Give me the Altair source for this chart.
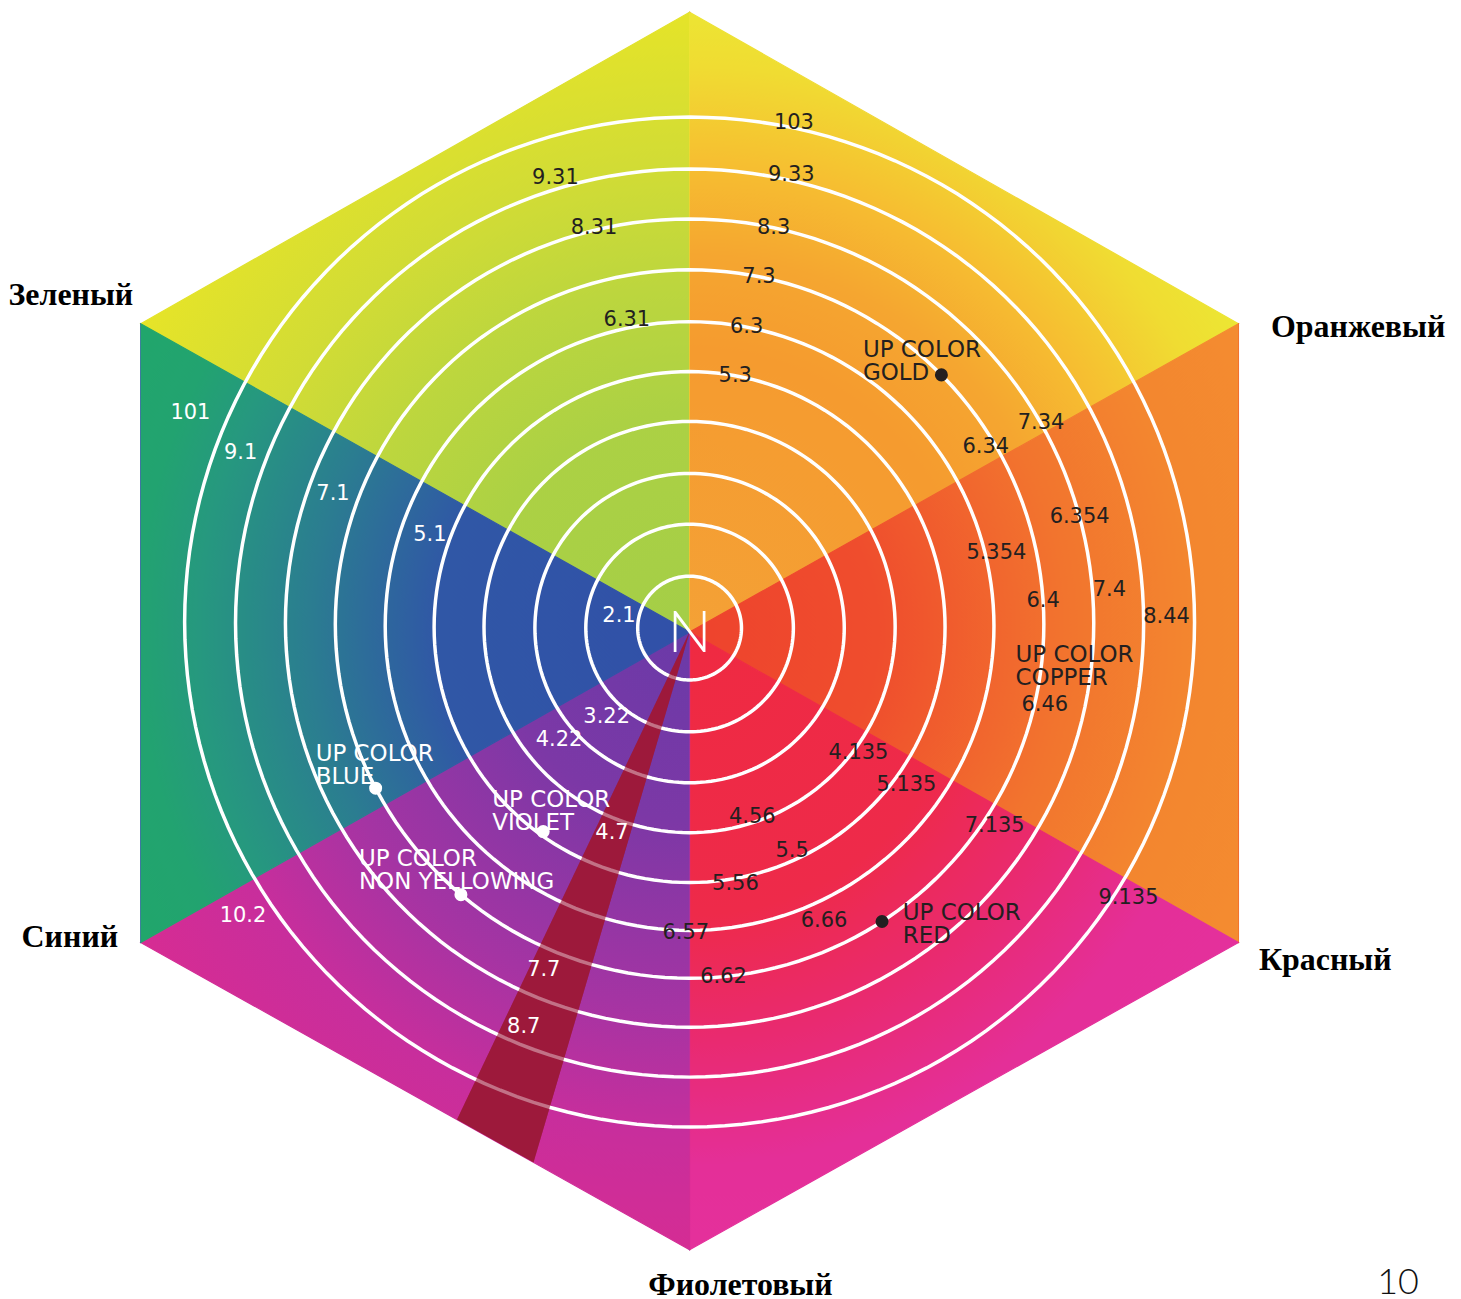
import math
import altair as alt
import pandas as pd

# ---------------------------------------------------------------- data
# shade numbers printed on the rings: label, angle (deg clockwise from 12 o'clock), ring position
dark_labels = ["103", "9.33", "8.3", "7.3", "6.3", "5.3", "9.31", "8.31", "6.31",
               "7.34", "6.34", "6.354", "5.354", "7.4", "6.4", "8.44", "6.46",
               "4.135", "5.135", "4.56", "7.135", "5.5", "5.56", "6.66", "9.135",
               "6.62", "6.57"]
dark_angles = [11.8, 12.8, 12.0, 11.3, 10.8, 10.3, -16.8, -13.6, -11.6,
               60.4, 59.1, 74.8, 76.6, 85.5, 86.3, 89.3, 102.8,
               126.7, 126.2, 161.7, 123.6, 155.4, 169.9, 155.6, 122.2,
               174.5, 180.7]
dark_rings = [9.1, 8.1, 7, 6, 5, 4, 8.2, 7.05, 5.15,
              7, 5.82, 7, 5.22, 7.34, 6, 8.45, 6.2,
              3.1, 4.27, 2.88, 6.24, 3.82, 4.12, 5.42, 9.27,
              6, 5.06]

light_labels = ["101", "9.1", "7.1", "5.1", "2.1", "3.22", "4.22", "4.7", "10.2", "7.7", "8.7"]
light_angles = [-67.3, -69.3, -70.1, -70.5, -80.4, -137.0, -130.8, -159.4, -123.4, -157.2, -157.7]
light_rings = [9.71, 8.51, 6.5, 4.41, 0.38, 1.35, 2.35, 3.3, 9.59, 6.44, 7.66]

product_names = ["UP COLOR\nGOLD", "UP COLOR\nCOPPER", "UP COLOR\nRED",
                 "UP COLOR\nBLUE", "UP COLOR\nVIOLET", "UP COLOR\nNON YELLOWING"]
product_angles = [32.2, 95.2, 143.6, 250.7, 228.8, 234.5]
product_rings = [5.42, 5.46, 6.1, 6.84, 4.14, 7.04]
product_dark = [True, True, True, False, False, False]

dot_names = ["GOLD", "RED", "BLUE", "VIOLET", "NON YELLOWING"]
dot_angles = [45.3, 147.1, 242.4, 215.6, 220.2]
dot_rings = [6, 6, 6, 3.92, 6]
dot_dark = [True, True, False, False, False]

families = ["Зеленый", "Оранжевый", "Синий", "Красный", "Фиолетовый"]
family_vertex = ["UL", "UR", "LL", "LR", "B"]

page_number = "10"

# wedge colour stops (offset along radius, colour), inner -> outer
wedge_stops = {
    "TL": [(0, "#a4ce47"), (0.35, "#acd144"), (0.55, "#bcd63e"), (0.75, "#d2dc35"), (1, "#e6e428")],
    "TR": [(0, "#f4a136"), (0.45, "#f59b2f"), (0.6, "#f5a630"), (0.75, "#f6bf31"), (0.9, "#f0dc32"), (1, "#ece633")],
    "R":  [(0, "#ee432d"), (0.3, "#ef4d2d"), (0.6, "#f2742e"), (0.8, "#f3862f"), (1, "#f48c30")],
    "BR": [(0, "#ef2a41"), (0.45, "#ee2a4a"), (0.65, "#e92a70"), (0.85, "#e42f98"), (1, "#e4309c")],
    "BL": [(0, "#6a3aa8"), (0.3, "#7c38a6"), (0.6, "#a534a3"), (0.8, "#c82e9c"), (1, "#d62c93")],
    "L":  [(0, "#3150a8"), (0.4, "#3057a6"), (0.6, "#2b7c91"), (0.78, "#26987f"), (0.88, "#22a370"), (1, "#21a66b")],
}
ash_colour = "#9d1a3c"
ash_angles = [196.4, 205.5]

# ---------------------------------------------------------------- geometry / style
W, H = 1445, 1291
X0, Y0 = 8, 8
CX, CY = 688, 629
V = {"T": (688, 8), "UR": (1238, 320), "LR": (1238, 940), "B": (688, 1248),
     "LL": (138, 940), "UL": (138, 320)}
ring_radius = [52, 104, 155, 206, 256, 305, 355, 405, 455, 506]
ring_cy = [625, 625, 625, 624, 624, 623, 621, 620, 620, 619]
family_offset = {"UL": (-70, -19), "UR": (120, 13), "LL": (-71, 5), "LR": (87, 28), "B": (51, 45)}
DARK, LIGHT = "#231f20", "#ffffff"
R_OUT = 630


def ring_geom(p):
    i = max(0, min(int(math.floor(p)), len(ring_radius) - 2))
    f = p - i
    r = ring_radius[i] + f * (ring_radius[i + 1] - ring_radius[i])
    cy = ring_cy[i] + f * (ring_cy[i + 1] - ring_cy[i])
    return r, cy


def polar(p, a):
    r, cy = ring_geom(p)
    t = math.radians(a)
    return CX + r * math.sin(t), cy - r * math.cos(t)


def area_rows(verts):
    xs_ = sorted(set(v[0] for v in verts))
    edges = [(verts[i], verts[(i + 1) % 3]) for i in range(3)]
    rows = []
    for x in xs_:
        vals = []
        for (x1, y1), (x2, y2) in edges:
            if min(x1, x2) - 1e-6 <= x <= max(x1, x2) + 1e-6:
                if abs(x2 - x1) < 1e-9:
                    vals += [y1, y2]
                else:
                    t = (x - x1) / (x2 - x1)
                    vals.append(y1 + t * (y2 - y1))
        rows.append({"x": x, "y": min(vals), "y2": max(vals)})
    return pd.DataFrame(rows)


def radial(stops, verts):
    xmin = min(v[0] for v in verts); xmax = max(v[0] for v in verts)
    ymin = min(v[1] for v in verts); ymax = max(v[1] for v in verts)
    w, h = xmax - xmin, ymax - ymin
    S = max(w, h)
    x0 = xmin + (w - S) / 2
    y0 = ymin + (h - S) / 2
    cx, cy = (CX - x0) / S, (CY - y0) / S
    return alt.RadialGradient(
        gradient="radial",
        stops=[alt.GradientStop(offset=o, color=c) for o, c in stops],
        x1=cx, y1=cy, r1=0, x2=cx, y2=cy, r2=R_OUT / S)


def ray_hit(a_deg, p, q):
    dx, dy = math.sin(math.radians(a_deg)), -math.cos(math.radians(a_deg))
    ex, ey = q[0] - p[0], q[1] - p[1]
    det = -dx * ey + ex * dy
    t = ((p[0] - CX) * (-ey) + ex * (p[1] - CY)) / det
    return CX + t * dx, CY + t * dy


xs = alt.Scale(domain=[X0, X0 + W], nice=False, zero=False)
ys = alt.Scale(domain=[Y0, Y0 + H], nice=False, zero=False, reverse=True)
X = alt.X("x:Q", scale=xs, axis=None)
Y = alt.Y("y:Q", scale=ys, axis=None)
C = (CX, CY)

wedges = {
    "TL": [C, V["T"], V["UL"]],
    "TR": [C, V["T"], V["UR"]],
    "R": [C, V["UR"], V["LR"]],
    "BR": [C, V["B"], V["LR"]],
    "BL": [C, V["LL"], V["B"]],
    "L": [C, V["UL"], V["LL"]],
}

layers = []
for key, verts in wedges.items():
    g = radial(wedge_stops[key], verts)
    layers.append(
        alt.Chart(area_rows(verts)).mark_area(fill=g, stroke=g, strokeWidth=1.2)
        .encode(x=X, y=Y, y2="y2:Q"))

# ash (dark) wedge
p1 = ray_hit(ash_angles[1], V["LL"], V["B"])
p2 = ray_hit(ash_angles[0], V["LL"], V["B"])
ash_df = area_rows([C, p1, p2])
layers.append(alt.Chart(ash_df).mark_area(color=ash_colour).encode(x=X, y=Y, y2="y2:Q"))

# rings
ring_rows = []
for i, r in enumerate(ring_radius):
    for k in range(0, 361, 2):
        t = math.radians(k)
        ring_rows.append({"ring": i, "k": k, "x": CX + r * math.sin(t), "y": ring_cy[i] - r * math.cos(t)})
layers.append(
    alt.Chart(pd.DataFrame(ring_rows)).mark_line(stroke="#ffffff", strokeWidth=3.5)
    .encode(x=X, y=Y, detail="ring:N", order="k:Q"))

# ash wedge veil over rings
layers.append(alt.Chart(ash_df).mark_area(color=ash_colour, opacity=0.62).encode(x=X, y=Y, y2="y2:Q"))

# number labels
lab_rows = []
for t, a, p in zip(dark_labels, dark_angles, dark_rings):
    x, y = polar(p, a)
    lab_rows.append({"label": t, "x": x, "y": y, "ink": DARK})
for t, a, p in zip(light_labels, light_angles, light_rings):
    x, y = polar(p, a)
    lab_rows.append({"label": t, "x": x, "y": y, "ink": LIGHT})
layers.append(
    alt.Chart(pd.DataFrame(lab_rows)).mark_text(font="DejaVu Sans", fontSize=21, align="center", baseline="middle")
    .encode(x=X, y=Y, text="label:N", color=alt.Color("ink:N", scale=None)))

# product dots
dot_rows = []
for n, a, p, d in zip(dot_names, dot_angles, dot_rings, dot_dark):
    x, y = polar(p, a)
    dot_rows.append({"name": n, "x": x, "y": y, "ink": DARK if d else LIGHT})
layers.append(
    alt.Chart(pd.DataFrame(dot_rows)).mark_circle(size=170, opacity=1)
    .encode(x=X, y=Y, color=alt.Color("ink:N", scale=None)))

# product names
prod_rows = []
for n, a, p, d in zip(product_names, product_angles, product_rings, product_dark):
    x, y = polar(p, a)
    prod_rows.append({"name": n, "x": x, "y": y, "ink": DARK if d else LIGHT})
layers.append(
    alt.Chart(pd.DataFrame(prod_rows)).mark_text(font="DejaVu Sans", fontSize=23, align="left",
                                                 baseline="middle", lineBreak="\n", lineHeight=23)
    .encode(x=X, y=Y, text="name:N", color=alt.Color("ink:N", scale=None)))

# centre N
layers.append(
    alt.Chart(pd.DataFrame([{"t": "N", "x": CX, "y": CY + 3}]))
    .mark_text(font="Lato", fontWeight=300, fontSize=58, color="#ffffff", align="center", baseline="middle")
    .encode(x=X, y=Y, text="t:N"))

# family names
fam_rows = []
for f, v in zip(families, family_vertex):
    ox, oy = family_offset[v]
    fam_rows.append({"name": f, "x": V[v][0] + ox, "y": V[v][1] + oy})
layers.append(
    alt.Chart(pd.DataFrame(fam_rows)).mark_text(font="Liberation Serif", fontWeight="bold", fontSize=32,
                                                align="center", baseline="alphabetic", color="#000000")
    .encode(x=X, y=Y, text="name:N"))

# page number
layers.append(
    alt.Chart(pd.DataFrame([{"t": page_number, "x": 1398, "y": 1281}]))
    .mark_text(font="Lato", fontWeight=300, fontSize=36, color="#111111", align="center", baseline="middle")
    .encode(x=X, y=Y, text="t:N"))

chart = alt.layer(*layers).properties(width=W, height=H, padding=0).configure_view(stroke=None)
chart.save("out.html", embed_options={"renderer": "svg", "actions": False})
